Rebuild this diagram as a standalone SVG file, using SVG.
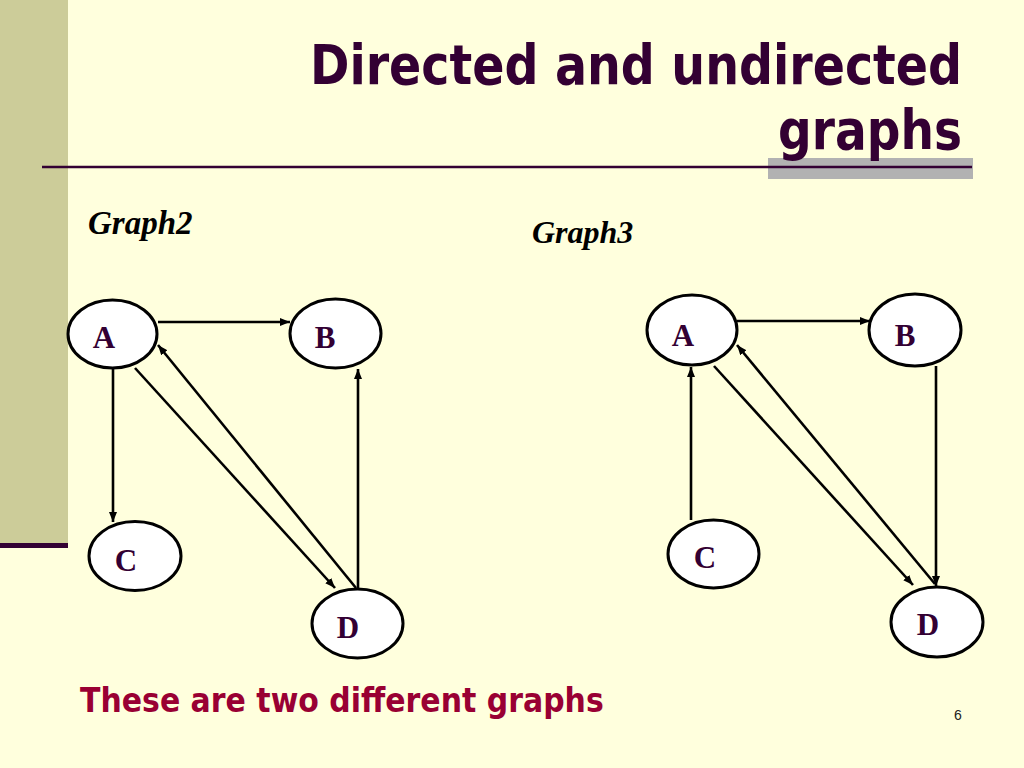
<svg xmlns="http://www.w3.org/2000/svg" width="1024" height="768" viewBox="0 0 1024 768">
<defs>
<style>
.title{font-family:"DejaVu Sans",Verdana,sans-serif;font-weight:bold;font-size:55px;fill:#330033;text-anchor:end}
.note{font-family:"DejaVu Sans",Verdana,sans-serif;font-weight:bold;font-size:33px;fill:#990033}
.glabel{font-family:"Liberation Serif","Times New Roman",serif;font-weight:bold;font-style:italic;font-size:32px;fill:#000}
.node ellipse{fill:#fff;stroke:#000;stroke-width:3}
.node text{font-family:"Liberation Serif","Times New Roman",serif;font-weight:bold;font-size:31px;fill:#330033;text-anchor:middle}
.edge{stroke:#000;stroke-width:2.6;fill:none;marker-end:url(#arr)}
.pnum{font-family:"Liberation Sans",Arial,sans-serif;font-size:14px;fill:#222}
</style>
<marker id="arr" markerUnits="userSpaceOnUse" markerWidth="12" markerHeight="10" refX="10" refY="4" orient="auto">
<path d="M0,0 L10,4 L0,8 z" fill="#000"/>
</marker>
</defs>
<rect x="0" y="0" width="1024" height="768" fill="#FFFFDD"/>
<rect x="0" y="0" width="68" height="545" fill="#CCCC99"/>
<rect x="0" y="543" width="68" height="5" fill="#330033"/>
<rect x="768" y="158" width="205" height="21" fill="#B2B2B2"/>
<line x1="42" y1="167" x2="972" y2="167" stroke="#330033" stroke-width="2.5"/>
<text class="title" transform="translate(962,84) scale(0.864,1)" x="0" y="0">Directed and undirected</text>
<text class="title" transform="translate(962,149) scale(0.856,1)" x="0" y="0">graphs</text>
<text class="glabel" x="88" y="234" style="font-size:33px">Graph2</text>
<text class="glabel" x="532" y="243">Graph3</text>

<g id="connectors">
<line class="edge" x1="158" y1="322" x2="290" y2="322"/>
<line class="edge" x1="113" y1="368" x2="113" y2="522"/>
<line class="edge" x1="135" y1="368" x2="335" y2="588"/>
<line class="edge" x1="356" y1="588" x2="158" y2="345"/>
<line class="edge" x1="358" y1="588" x2="358" y2="369"/>

<line class="edge" x1="737" y1="321" x2="870" y2="321"/>
<line class="edge" x1="691" y1="520" x2="691" y2="367"/>
<line class="edge" x1="714" y1="366" x2="913" y2="585"/>
<line class="edge" x1="935" y1="584" x2="737" y2="345"/>
<line class="edge" x1="936" y1="366" x2="936" y2="586"/>
</g>

<g id="g2-A" class="node"><ellipse cx="112.5" cy="334" rx="44.5" ry="34"/><text x="104" y="348">A</text></g>
<g id="g2-B" class="node"><ellipse cx="335.5" cy="333.5" rx="45.5" ry="34.5"/><text x="325" y="348">B</text></g>
<g id="g2-C" class="node"><ellipse cx="135" cy="556" rx="46" ry="34.5"/><text x="126" y="571">C</text></g>
<g id="g2-D" class="node"><ellipse cx="357.5" cy="623.5" rx="45.5" ry="34.5"/><text x="348" y="638">D</text></g>

<g id="g3-A" class="node"><ellipse cx="692" cy="330" rx="45" ry="35"/><text x="683" y="346">A</text></g>
<g id="g3-B" class="node"><ellipse cx="915" cy="330" rx="46" ry="36"/><text x="905" y="346">B</text></g>
<g id="g3-C" class="node"><ellipse cx="713.5" cy="554" rx="45.5" ry="34"/><text x="705" y="568">C</text></g>
<g id="g3-D" class="node"><ellipse cx="937" cy="622" rx="46" ry="35"/><text x="928" y="635">D</text></g>

<text class="note" transform="translate(80,712) scale(0.908,1)" x="0" y="0">These are two different graphs</text>
<text class="pnum" x="958" y="720" text-anchor="middle">6</text>
</svg>
